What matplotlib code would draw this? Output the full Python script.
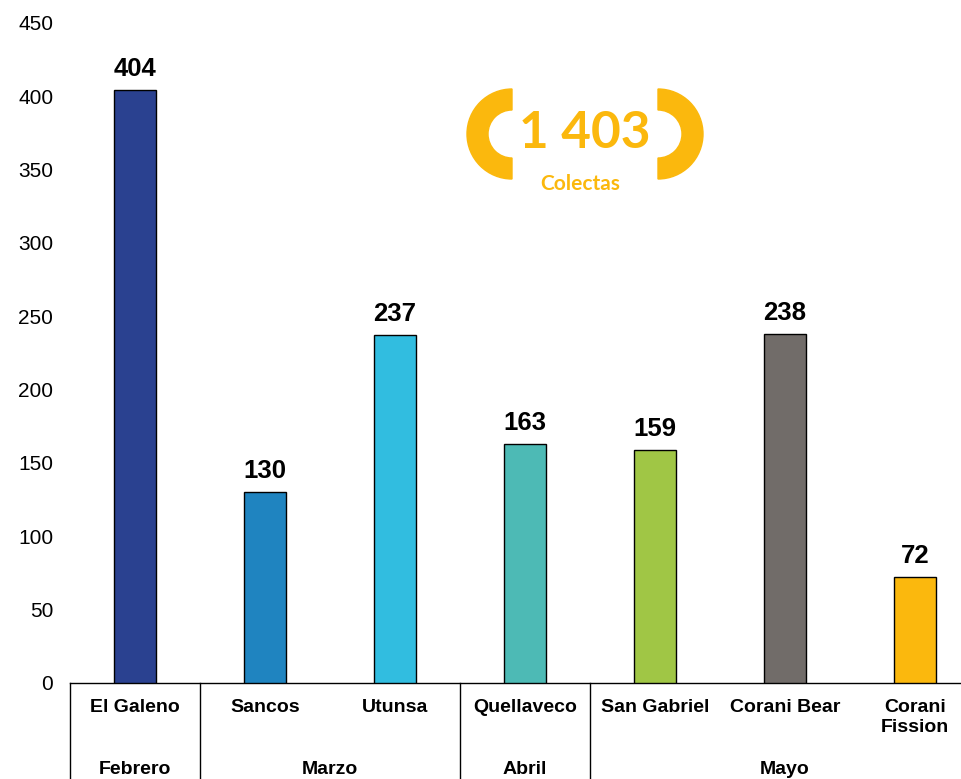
import matplotlib
matplotlib.use("Agg")
import matplotlib.pyplot as plt
from matplotlib.patches import Wedge
import matplotlib.transforms as mtrans

plt.rcParams["font.family"] = ["Liberation Sans", "DejaVu Sans"]

# data
sites = ["El Galeno", "Sancos", "Utunsa", "Quellaveco", "San Gabriel",
         "Corani Bear", "Corani\nFission"]
collects = [404, 130, 237, 163, 159, 238, 72]
months = ["Febrero", "Marzo", "Abril", "Mayo"]
month_sizes = [1, 2, 1, 3]
colors = ["#2a4190", "#1f84c0", "#31bde0", "#4dbab5", "#a0c645", "#716c69", "#fbb80d"]
GOLD = "#fbb80d"

W, H = 962, 779
fig = plt.figure(figsize=(W / 100, H / 100), dpi=100)
ax = fig.add_axes([70 / W, 96 / H, 910 / W, 660 / H])

x = list(range(len(sites)))
ax.bar(x, collects, 0.32, color=colors, edgecolor="black", linewidth=1.0, zorder=3)
for xi, v in zip(x, collects):
    ax.annotate(f"{v}", (xi, v), xytext=(0, 9), textcoords="offset pixels",
                ha="center", va="bottom", fontsize=18.5, fontweight="bold")

ax.set_xlim(-0.5, len(sites) - 0.5)
ax.set_ylim(0, 450)
ax.set_yticks(range(0, 451, 50))
ax.tick_params(axis="y", length=0, labelsize=15, pad=12)
ax.set_xticks([])
for s in ("top", "right", "left"):
    ax.spines[s].set_visible(False)
ax.spines["bottom"].set_linewidth(1.0)

# two-level category axis
tr = mtrans.blended_transform_factory(ax.transData, ax.transAxes)
for xi, name in zip(x, sites):
    ax.text(xi, -16 / 660, name, transform=tr, ha="center", va="top",
            fontsize=14, fontweight="bold", linespacing=1.25)
start = -0.5
ax.plot([start, start], [0, -0.2], transform=tr, color="black", lw=1.0, clip_on=False)
for m, n in zip(months, month_sizes):
    end = start + n
    ax.plot([end, end], [0, -0.2], transform=tr, color="black", lw=1.0, clip_on=False)
    ax.text((start + end) / 2, -86 / 660, m, transform=tr, ha="center", va="center",
            fontsize=14, fontweight="bold")
    start = end

# total badge
bx = fig.add_axes([455 / W, 1 - 200 / H, 260 / W, 120 / H])
bx.set_xlim(455, 715)
bx.set_ylim(200, 80)
bx.set_aspect("equal")
bx.axis("off")
bx.add_patch(Wedge((512, 134), 45, 90, 270, width=21, color=GOLD))
bx.add_patch(Wedge((658, 134), 45, -90, 90, width=21, color=GOLD))
total = sum(collects)
bx.text(585, 133, f"{total:,}".replace(",", " "), ha="center", va="center",
        fontsize=37, fontweight="bold", color=GOLD, family="Lato")
bx.text(580, 184, "Colectas", ha="center", va="center",
        fontsize=15, fontweight="bold", color=GOLD, family="Lato")

fig.savefig("out.png", dpi=100)
